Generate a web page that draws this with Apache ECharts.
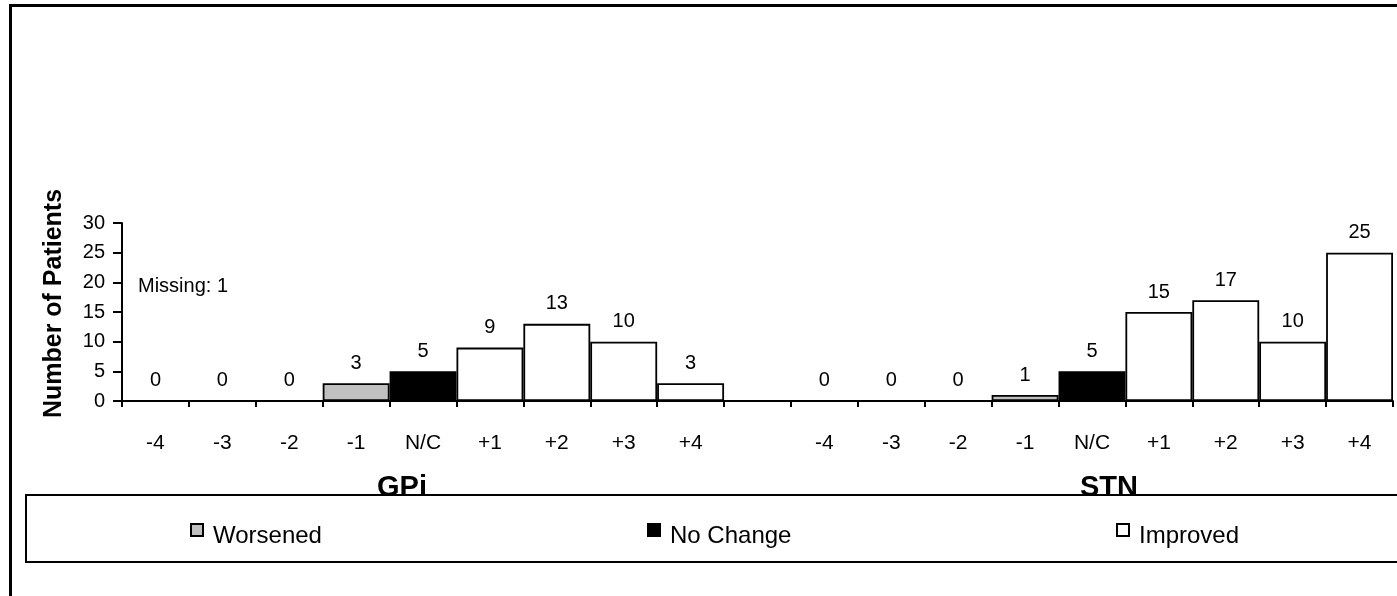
<!DOCTYPE html>
<html>
<head>
<meta charset="utf-8">
<script src="https://cdn.jsdelivr.net/npm/echarts@6/dist/echarts.min.js"></script>
<style>
  html, body { margin: 0; padding: 0; background: #fff; }
  #chart { width: 1397px; height: 596px; }
</style>
</head>
<body>
<div id="chart"></div>
<script>
// categories: GPi block, one blank slot, STN block
const categories = [
  'GPi -4', 'GPi -3', 'GPi -2', 'GPi -1', 'GPi N/C', 'GPi +1', 'GPi +2', 'GPi +3', 'GPi +4',
  'gap',
  'STN -4', 'STN -3', 'STN -2', 'STN -1', 'STN N/C', 'STN +1', 'STN +2', 'STN +3', 'STN +4'
]
const tickLabels = [
  '-4', '-3', '-2', '-1', 'N/C', '+1', '+2', '+3', '+4',
  '',
  '-4', '-3', '-2', '-1', 'N/C', '+1', '+2', '+3', '+4'
]
const worsened = [0, 0, 0, 3, null, null, null, null, null, null, 0, 0, 0, 1, null, null, null, null, null]
const noChange = [null, null, null, null, 5, null, null, null, null, null, null, null, null, null, 5, null, null, null, null]
const improved = [null, null, null, null, null, 9, 13, 10, 3, null, null, null, null, null, null, 15, 17, 10, 25]
const yTicks = { min: 0, max: 30, interval: 5 }

const font = '"Liberation Sans", Arial, sans-serif'
const chart = echarts.init(document.getElementById('chart'))

const barLabel = {
  show: true,
  position: 'top',
  distance: 10,
  color: '#000',
  fontSize: 20,
  fontFamily: font
}

// square sits in the upper half of the icon box, so it rides above the text
const legendBase = {
  top: 523,
  padding: 0,
  itemWidth: 12,
  itemHeight: 24,
  icon: 'path://M0,0H12V12H0Z M0,24',
  selectedMode: false,
  textStyle: { color: '#000', fontSize: 24, fontFamily: font, padding: [0, 0, 0, 5] }
}

chart.setOption({
  animation: false,
  textStyle: { fontFamily: font },
  grid: { left: 122, right: 4, top: 223, bottom: 195, containLabel: false },
  legend: [
    { ...legendBase, left: 190, data: ['Worsened'] },
    { ...legendBase, left: 647, data: ['No Change'] },
    { ...legendBase, left: 1116, data: ['Improved'] }
  ],
  xAxis: {
    type: 'category',
    data: categories,
    axisLine: { lineStyle: { color: '#000', width: 2 } },
    axisTick: { show: true, length: 6, lineStyle: { color: '#000', width: 2 } },
    axisLabel: {
      interval: 0,
      margin: 32,
      color: '#000',
      fontSize: 21,
      fontFamily: font,
      formatter: (v, i) => tickLabels[i]
    },
    splitLine: { show: false }
  },
  yAxis: {
    type: 'value',
    min: yTicks.min,
    max: yTicks.max,
    interval: yTicks.interval,
    name: 'Number of Patients',
    nameLocation: 'middle',
    nameGap: 55,
    nameTextStyle: { color: '#000', fontSize: 25, fontWeight: 'bold', fontFamily: font, padding: [0, 0, 0, 17] },
    axisLine: { show: true, lineStyle: { color: '#000', width: 2 } },
    axisTick: { show: true, length: 9, lineStyle: { color: '#000', width: 2 } },
    axisLabel: { margin: 17, color: '#000', fontSize: 20, fontFamily: font },
    splitLine: { show: false }
  },
  series: [
    {
      name: 'Worsened',
      type: 'bar',
      stack: 'all',
      barWidth: '100%',
      data: worsened,
      itemStyle: { color: '#c0c0c0', borderColor: '#000', borderWidth: 1.8 },
      label: barLabel
    },
    {
      name: 'No Change',
      type: 'bar',
      stack: 'all',
      barWidth: '100%',
      data: noChange,
      itemStyle: { color: '#000', borderColor: '#000', borderWidth: 1.8 },
      label: barLabel
    },
    {
      name: 'Improved',
      type: 'bar',
      stack: 'all',
      barWidth: '100%',
      data: improved,
      itemStyle: { color: '#fff', borderColor: '#000', borderWidth: 1.8 },
      label: barLabel
    }
  ],
  graphic: [
    {
      type: 'rect', z: 0, silent: true,
      shape: { x: 10.5, y: 5.5, width: 1400, height: 600 },
      style: { fill: 'none', stroke: '#000', lineWidth: 3 }
    },
    {
      type: 'text', z: 1, left: 138, top: 276,
      style: { text: 'Missing: 1', fill: '#000', fontSize: 20, fontFamily: font }
    },
    {
      type: 'text', z: 1, x: 402, y: 488,
      style: { text: 'GPi', fill: '#000', fontSize: 29, fontWeight: 'bold', fontFamily: font, align: 'center', verticalAlign: 'middle' }
    },
    {
      type: 'text', z: 1, x: 1109, y: 488,
      style: { text: 'STN', fill: '#000', fontSize: 29, fontWeight: 'bold', fontFamily: font, align: 'center', verticalAlign: 'middle' }
    },
    {
      type: 'rect', z: 3, silent: true,
      shape: { x: 26, y: 495, width: 1400, height: 67 },
      style: { fill: '#fff', stroke: '#000', lineWidth: 2 }
    }
  ]
})
</script>
</body>
</html>
